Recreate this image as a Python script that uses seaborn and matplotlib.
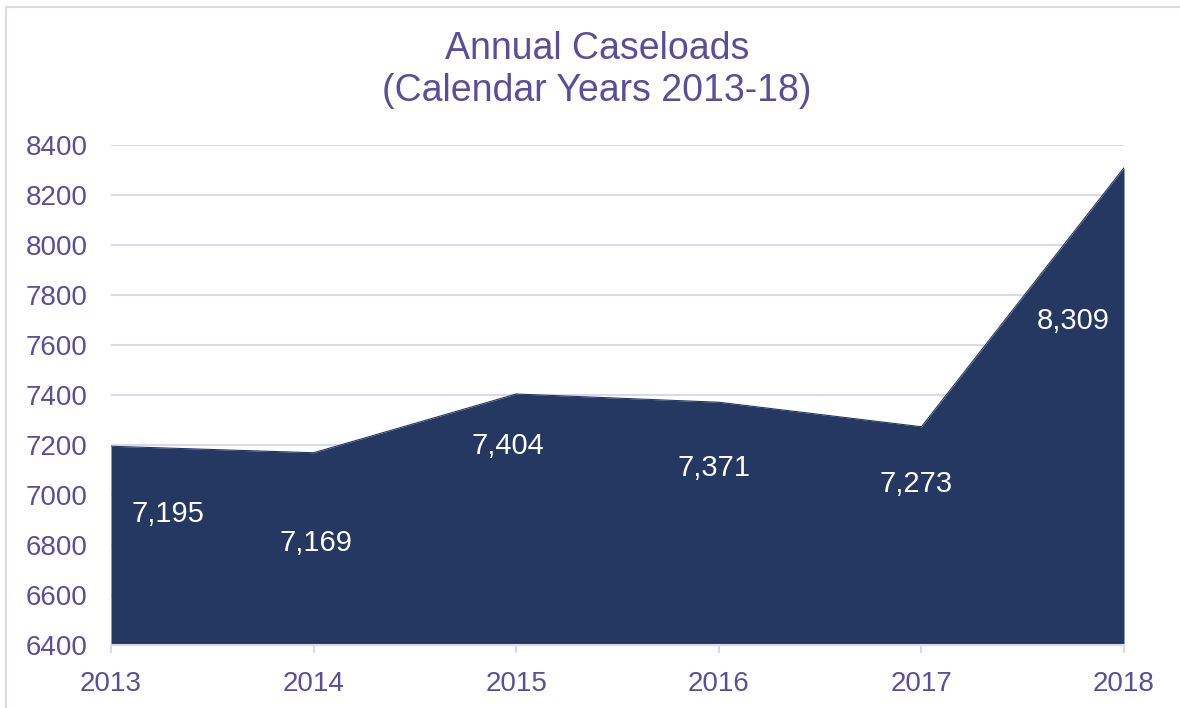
import matplotlib
matplotlib.use("Agg")
import matplotlib.pyplot as plt
from matplotlib.lines import Line2D
import seaborn as sns
import pandas as pd

# Annual caseload counts by calendar year
years = [2013, 2014, 2015, 2016, 2017, 2018]
caseloads = [7195, 7169, 7404, 7371, 7273, 8309]
y_ticks = [6400, 6600, 6800, 7000, 7200, 7400, 7600, 7800, 8000, 8200, 8400]

# label placement relative to each point, in pixels (dx right, dy up)
label_offsets = [(57, -68), (2, -90), (-8, -52), (-5, -66), (-5, -57), (-51, -153)]

FILL = "#253862"
PURPLE = "#5a4e9c"
LAVENDER = "#dad8ee"

sns.set_theme(style="white")
plt.rcParams["font.family"] = ["Liberation Sans", "DejaVu Sans"]

df = pd.DataFrame({"year": years, "caseload": caseloads})

fig = plt.figure(figsize=(11.8, 7.08), dpi=100)
ax = fig.add_axes([111 / 1180, 1 - 645 / 708, (1124 - 111) / 1180, 500 / 708])

sns.lineplot(data=df, x="year", y="caseload", ax=ax, color=FILL, linewidth=0.8)
ax.fill_between(df["year"], y_ticks[0], df["caseload"], color=FILL, linewidth=0, zorder=3)

ax.set_xlim(years[0], years[-1])
ax.set_ylim(y_ticks[0], y_ticks[-1])
ax.set_yticks(y_ticks)
ax.set_xticks(years)
ax.set_xticklabels([str(y) for y in years])
ax.set_xlabel("")
ax.set_ylabel("")

ax.yaxis.grid(True, color=LAVENDER, linewidth=1.5, zorder=0)
ax.xaxis.grid(False)
ax.set_axisbelow(True)
for side in ("left", "right", "top"):
    ax.spines[side].set_visible(False)
ax.spines["bottom"].set_color(LAVENDER)
ax.spines["bottom"].set_linewidth(1.5)
ax.spines["bottom"].set_zorder(4)

ax.tick_params(axis="y", length=0, pad=17, labelsize=20, labelcolor=PURPLE)
ax.tick_params(axis="x", length=6, width=1.5, color=LAVENDER, pad=13,
               labelsize=20, labelcolor=PURPLE, bottom=True)

for x, v, (dx, dy) in zip(years, caseloads, label_offsets):
    ax.annotate(f"{v:,}", xy=(x, v), xytext=(dx, dy), textcoords="offset pixels",
                ha="center", va="center", color="white", fontsize=21, zorder=5)

fig.text(597 / 1180, 1 - 70 / 708, "Annual Caseloads\n(Calendar Years 2013-18)",
         ha="center", va="center", color=PURPLE, fontsize=27, linespacing=1.2)

# light frame along the top and left edges of the chart
left_x = 6 / 1180
top_y = 1 - 7 / 708
fig.add_artist(Line2D([left_x, left_x, 1.0], [0.0, top_y, top_y],
                      transform=fig.transFigure, color=LAVENDER, linewidth=1.5))

fig.savefig("out.png", dpi=100, facecolor="white")
